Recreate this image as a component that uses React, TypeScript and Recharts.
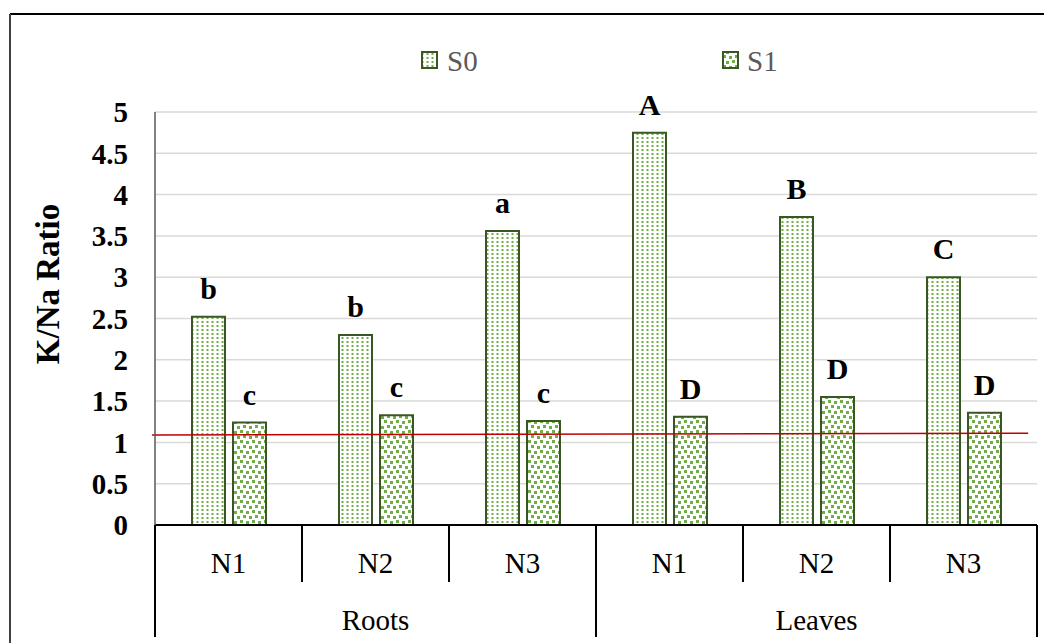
import { BarChart, Bar, XAxis, YAxis, CartesianGrid, LabelList, ReferenceLine } from 'recharts';

// values
const groups = ['Roots', 'Leaves'];
const treatments = ['N1', 'N2', 'N3'];
const s0Values = [2.52, 2.3, 3.56, 4.75, 3.73, 3.0];
const s1Values = [1.24, 1.33, 1.26, 1.31, 1.55, 1.36];
const s0Letters = ['b', 'b', 'a', 'A', 'B', 'C'];
const s1Letters = ['c', 'c', 'c', 'D', 'D', 'D'];
const yTicks = [0, 0.5, 1, 1.5, 2, 2.5, 3, 3.5, 4, 4.5, 5];
// threshold line, slightly tilted in the original (x in category-index units)
const redLine = [
    { x: -0.017, y: 1.09 },
    { x: 4.95, y: 1.11 },
];

const data = groups.flatMap((g, gi) =>
    treatments.map((t, ti) => {
        const i = gi * treatments.length + ti;
        return {
            key: `${g}|${t}`,
            s0: s0Values[i],
            s1: s1Values[i],
            s0Label: s0Letters[i],
            s1Label: s1Letters[i],
        };
    })
);

const W = 1053;
const H = 643;
const Y_AXIS_W = 155;
const RIGHT = 16;
const X_AXIS_H = 118;
const BAND = (W - Y_AXIS_W - RIGHT) / data.length;

const FONT = 'Liberation Serif, Times New Roman, Tinos, DejaVu Serif, serif';
const GREEN = '#70AD47';
const DARK = '#385723';

const PatternDefs = ({ prefix }: { prefix: string }) => (
    <defs>
        <pattern id={`${prefix}-dots`} width="5" height="4" patternUnits="userSpaceOnUse">
            <rect width="5" height="4" fill="#fff" />
            <rect x="1.5" y="1" width="2" height="2" fill={GREEN} />
        </pattern>
        <pattern id={`${prefix}-confetti`} width="12" height="10" patternUnits="userSpaceOnUse">
            <rect width="12" height="10" fill="#fff" />
            <rect x="0" y="0" width="3" height="3" fill={GREEN} />
            <rect x="6" y="1" width="3" height="3" fill={GREEN} />
            <rect x="3" y="5" width="3" height="3" fill={GREEN} />
            <rect x="9" y="6" width="3" height="3" fill={GREEN} />
        </pattern>
    </defs>
);

// two-level category axis: treatment row + organ row, with Excel-like dividers
const XTick = (props: any) => {
    const { x, y, payload, index } = props;
    const [group, treatment] = String(payload.value).split('|');
    const half = BAND / 2;
    const perGroup = treatments.length;
    const isGroupStart = index % perGroup === 0;
    const isLast = index === data.length - 1;
    return (
        <g>
            <line
                x1={x - half}
                x2={x - half}
                y1={y}
                y2={isGroupStart ? y + 112 : y + 57}
                stroke="#000"
                strokeWidth={2}
            />
            {isLast && <line x1={x + half} x2={x + half} y1={y} y2={y + 112} stroke="#000" strokeWidth={2} />}
            <text x={x} y={y + 48} textAnchor="middle" fontSize={29} fill="#000" style={{ fontFamily: FONT }}>
                {treatment}
            </text>
            {index % perGroup === 1 && (
                <text x={x} y={y + 105} textAnchor="middle" fontSize={29} fill="#000" style={{ fontFamily: FONT }}>
                    {group}
                </text>
            )}
        </g>
    );
};

const YTitle = () => (
    <text
        x={48}
        y={284}
        transform="rotate(-90 48 284)"
        textAnchor="middle"
        dominantBaseline="central"
        fontSize={33}
        fontWeight="bold"
        fill="#000"
        style={{ fontFamily: FONT }}
    >
        K/Na Ratio
    </text>
);

const labelStyle = { fontSize: 30, fontWeight: 'bold', fill: '#000', fontFamily: FONT };

export default function App() {
    return (
        <div style={{ position: 'absolute', left: 0, top: 0, width: W, height: H, background: '#fff', fontFamily: FONT }}>
            <BarChart
                width={W}
                height={H}
                data={data}
                margin={{ top: 112, right: RIGHT, left: 0, bottom: 0 }}
                barGap={8}
                style={{ fontFamily: FONT }}
            >
                <PatternDefs prefix="chart" />
                <CartesianGrid xAxisId="cat" vertical={false} stroke="#D9D9D9" strokeWidth={1.5} />
                <XAxis
                    xAxisId="cat"
                    dataKey="key"
                    height={X_AXIS_H}
                    interval={0}
                    tickLine={false}
                    tickSize={0}
                    tickMargin={0}
                    axisLine={{ stroke: '#000', strokeWidth: 2 }}
                    tick={<XTick />}
                />
                <XAxis xAxisId="ref" type="number" domain={[0, data.length - 1]} allowDataOverflow hide />
                <YAxis
                    width={Y_AXIS_W}
                    domain={[0, 5]}
                    ticks={yTicks}
                    interval={0}
                    tickLine={false}
                    tickSize={0}
                    tickMargin={27}
                    axisLine={{ stroke: '#595959', strokeWidth: 1.5 }}
                    tick={{ fontSize: 29, fontWeight: 'bold', fill: '#000', fontFamily: FONT }}
                    label={<YTitle />}
                />
                <Bar
                    xAxisId="cat"
                    dataKey="s0"
                    fill="url(#chart-dots)"
                    stroke={DARK}
                    strokeWidth={2}
                    barSize={33}
                    isAnimationActive={false}
                >
                    <LabelList dataKey="s0Label" position="top" offset={18} style={labelStyle} />
                </Bar>
                <Bar
                    xAxisId="cat"
                    dataKey="s1"
                    fill="url(#chart-confetti)"
                    stroke={DARK}
                    strokeWidth={2}
                    barSize={33}
                    isAnimationActive={false}
                >
                    <LabelList dataKey="s1Label" position="top" offset={18} style={labelStyle} />
                </Bar>
                <ReferenceLine
                    xAxisId="ref"
                    segment={redLine}
                    stroke="#C00000"
                    strokeWidth={1.5}
                    ifOverflow="visible"
                />
            </BarChart>

            {/* legend and outer frame */}
            <svg width={W} height={H} style={{ position: 'absolute', left: 0, top: 0, pointerEvents: 'none' }}>
                <PatternDefs prefix="legend" />
                <line x1={10} x2={1044} y1={14} y2={14} stroke="#000" strokeWidth={2} />
                <line x1={10} x2={10} y1={14} y2={H} stroke="#404040" strokeWidth={2} />
                <rect x={422} y={52} width={15} height={16} fill="url(#legend-dots)" stroke={DARK} strokeWidth={2} />
                <text x={447} y={71} fontSize={29} fill="#595959" style={{ fontFamily: FONT }}>S0</text>
                <rect x={723} y={52} width={15} height={16} fill="url(#legend-confetti)" stroke={DARK} strokeWidth={2} />
                <text x={747} y={71} fontSize={29} fill="#595959" style={{ fontFamily: FONT }}>S1</text>
            </svg>
        </div>
    );
}
